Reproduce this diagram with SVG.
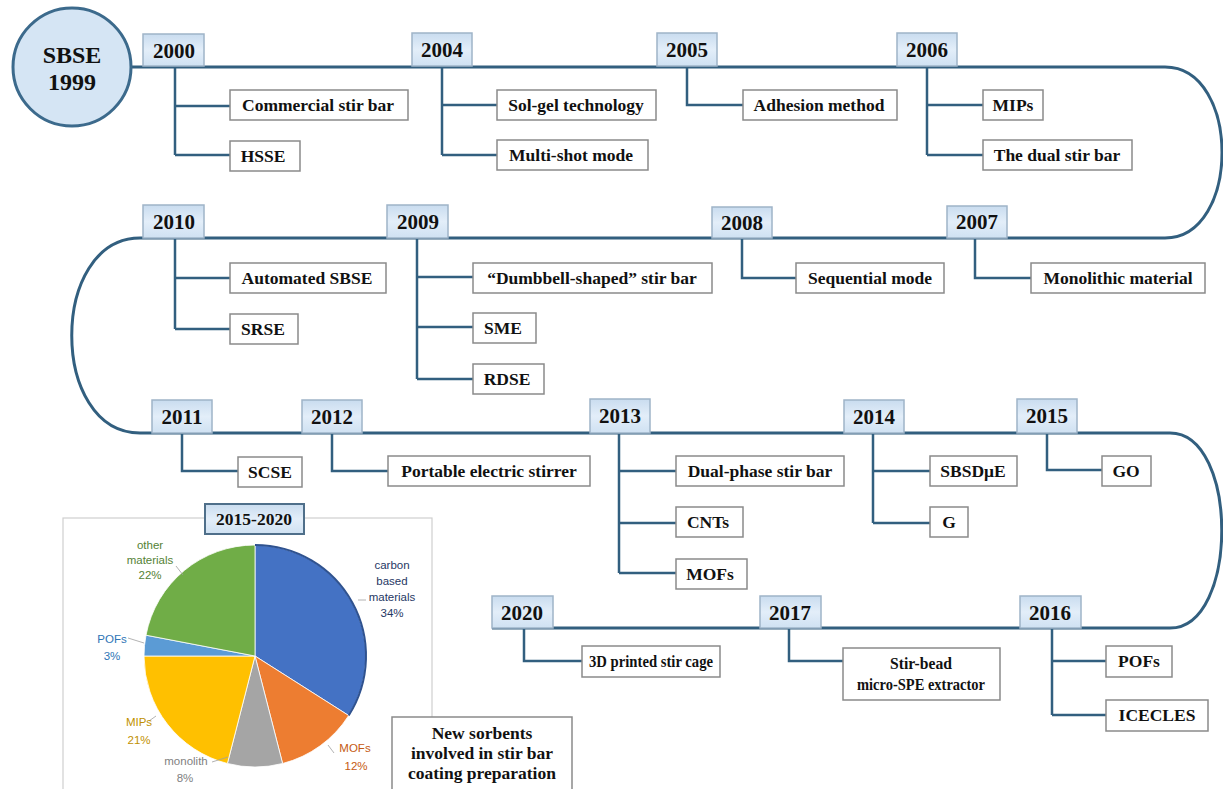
<svg xmlns="http://www.w3.org/2000/svg" width="1223" height="789" viewBox="0 0 1223 789">
<defs>
<linearGradient id="yg" x1="0" y1="0" x2="0" y2="1">
<stop offset="0" stop-color="#c9dcef"/>
<stop offset="0.5" stop-color="#e3eef9"/>
<stop offset="1" stop-color="#cfe1f2"/>
</linearGradient>
<style>
.tl{fill:none;stroke:#325f7f;stroke-width:3}
.br{fill:none;stroke:#325f7f;stroke-width:2.5}
.yb{fill:url(#yg);stroke:#9fb4c8;stroke-width:1.5}
.ib{fill:#fff;stroke:#8a8a8a;stroke-width:1.5}
.yt{font-family:"Liberation Serif",serif;font-weight:bold;font-size:21px;fill:#111;text-anchor:middle}
.it{font-family:"Liberation Serif",serif;font-weight:bold;font-size:17.5px;fill:#111;text-anchor:middle}
.pl{font-family:"Liberation Sans",Arial,sans-serif;font-size:11.5px;text-anchor:middle}
.ld{fill:none;stroke:#a0a0a0;stroke-width:0.8}
.sl{stroke:#fff;stroke-width:0.8}
</style>
</defs>
<rect width="1223" height="789" fill="#fff"/>

<g id="connectors">
<path class="tl" d="M131 67 H1165 C1241 67 1241 238 1165 238 H140 C49 238 49 433 140 433 H1170 C1239 433 1239 628 1170 628 H492"/>
<path class="br" d="M175 67 V155 M175 106 H230 M175 155 H230"/>
<path class="br" d="M442 67 V155 M442 105 H497 M442 155 H497"/>
<path class="br" d="M687 67 V105 H743"/>
<path class="br" d="M927 67 V155 M927 105 H983 M927 155 H983"/>
<path class="br" d="M175 238 V329 M175 278 H230 M175 329 H230"/>
<path class="br" d="M417 238 V379 M417 277 H473 M417 327 H473 M417 379 H473"/>
<path class="br" d="M742 238 V278 H796"/>
<path class="br" d="M975 238 V278 H1031"/>
<path class="br" d="M182 433 V471 H238"/>
<path class="br" d="M332 433 V471 H388"/>
<path class="br" d="M619 433 V573 M619 471 H676 M619 523 H676 M619 573 H676"/>
<path class="br" d="M873 433 V523 M873 471 H930 M873 523 H930"/>
<path class="br" d="M1047 433 V470 H1102"/>
<path class="br" d="M524 628 V661 H582"/>
<path class="br" d="M789 628 V661 H843"/>
<path class="br" d="M1052 628 V715 M1052 661 H1106 M1052 715 H1106"/>
</g>

<g id="start">
<circle cx="72" cy="67" r="59" fill="#d5e5f4" stroke="#3c6a8c" stroke-width="3"/>
<text x="72" y="63" font-family="Liberation Serif,serif" font-weight="bold" font-size="24" fill="#111" text-anchor="middle">SBSE</text>
<text x="72" y="90" font-family="Liberation Serif,serif" font-weight="bold" font-size="24" fill="#111" text-anchor="middle">1999</text>
</g>

<g id="y2000"><rect class="yb" x="143" y="34" width="61" height="32"/><text class="yt" x="174" y="58">2000</text></g>
<g id="y2004"><rect class="yb" x="412" y="33" width="60" height="33"/><text class="yt" x="442" y="57">2004</text></g>
<g id="y2005"><rect class="yb" x="657" y="33" width="60" height="33"/><text class="yt" x="687" y="57">2005</text></g>
<g id="y2006"><rect class="yb" x="897" y="33" width="60" height="33"/><text class="yt" x="927" y="57">2006</text></g>
<g id="y2010"><rect class="yb" x="143" y="205" width="61" height="33"/><text class="yt" x="174" y="229">2010</text></g>
<g id="y2009"><rect class="yb" x="387" y="205" width="61" height="33"/><text class="yt" x="418" y="229">2009</text></g>
<g id="y2008"><rect class="yb" x="712" y="207" width="60" height="31"/><text class="yt" x="742" y="230">2008</text></g>
<g id="y2007"><rect class="yb" x="947" y="206" width="60" height="32"/><text class="yt" x="977" y="229">2007</text></g>
<g id="y2011"><rect class="yb" x="152" y="400" width="60" height="33"/><text class="yt" x="182" y="424">2011</text></g>
<g id="y2012"><rect class="yb" x="302" y="400" width="60" height="33"/><text class="yt" x="332" y="424">2012</text></g>
<g id="y2013"><rect class="yb" x="590" y="399" width="60" height="34"/><text class="yt" x="620" y="423">2013</text></g>
<g id="y2014"><rect class="yb" x="844" y="400" width="60" height="33"/><text class="yt" x="874" y="424">2014</text></g>
<g id="y2015"><rect class="yb" x="1017" y="399" width="60" height="34"/><text class="yt" x="1047" y="423">2015</text></g>
<g id="y2020"><rect class="yb" x="492" y="596" width="61" height="32"/><text class="yt" x="522" y="620">2020</text></g>
<g id="y2017"><rect class="yb" x="760" y="596" width="61" height="32"/><text class="yt" x="790" y="620">2017</text></g>
<g id="y2016"><rect class="yb" x="1020" y="596" width="61" height="32"/><text class="yt" x="1050" y="620">2016</text></g>

<g id="i-commercial"><rect class="ib" x="230" y="90" width="178" height="30"/><text class="it" x="318" y="111">Commercial stir bar</text></g>
<g id="i-hsse"><rect class="ib" x="230" y="141" width="70" height="30"/><text class="it" x="263" y="162">HSSE</text></g>
<g id="i-solgel"><rect class="ib" x="497" y="90" width="159" height="30"/><text class="it" x="576" y="111">Sol-gel technology</text></g>
<g id="i-multishot"><rect class="ib" x="497" y="140" width="151" height="30"/><text class="it" x="571" y="161">Multi-shot mode</text></g>
<g id="i-adhesion"><rect class="ib" x="743" y="90" width="154" height="30"/><text class="it" x="819" y="111">Adhesion method</text></g>
<g id="i-mips"><rect class="ib" x="983" y="90" width="60" height="30"/><text class="it" x="1013" y="111">MIPs</text></g>
<g id="i-dual"><rect class="ib" x="983" y="140" width="149" height="30"/><text class="it" x="1057" y="161">The dual stir bar</text></g>
<g id="i-automated"><rect class="ib" x="230" y="263" width="156" height="30"/><text class="it" x="307" y="284">Automated SBSE</text></g>
<g id="i-srse"><rect class="ib" x="230" y="314" width="68" height="30"/><text class="it" x="263" y="335">SRSE</text></g>
<g id="i-dumbbell"><rect class="ib" x="473" y="263" width="239" height="30"/><text class="it" x="592" y="284">“Dumbbell-shaped” stir bar</text></g>
<g id="i-sme"><rect class="ib" x="473" y="313" width="63" height="30"/><text class="it" x="503" y="334">SME</text></g>
<g id="i-rdse"><rect class="ib" x="473" y="364" width="71" height="30"/><text class="it" x="507" y="385">RDSE</text></g>
<g id="i-sequential"><rect class="ib" x="796" y="263" width="148" height="30"/><text class="it" x="870" y="284">Sequential mode</text></g>
<g id="i-monolithic"><rect class="ib" x="1031" y="263" width="174" height="30"/><text class="it" x="1118" y="284">Monolithic material</text></g>
<g id="i-scse"><rect class="ib" x="238" y="457" width="64" height="30"/><text class="it" x="270" y="478">SCSE</text></g>
<g id="i-portable"><rect class="ib" x="388" y="456" width="202" height="30"/><text class="it" x="489" y="477">Portable electric stirrer</text></g>
<g id="i-dualphase"><rect class="ib" x="676" y="456" width="168" height="30"/><text class="it" x="760" y="477">Dual-phase stir bar</text></g>
<g id="i-cnts"><rect class="ib" x="676" y="507" width="67" height="30"/><text class="it" x="708" y="528">CNTs</text></g>
<g id="i-mofs"><rect class="ib" x="676" y="559" width="71" height="30"/><text class="it" x="710" y="580">MOFs</text></g>
<g id="i-sbsdme"><rect class="ib" x="930" y="456" width="87" height="30"/><text class="it" x="973" y="477">SBSDμE</text></g>
<g id="i-g"><rect class="ib" x="930" y="507" width="38" height="30"/><text class="it" x="949" y="528">G</text></g>
<g id="i-go"><rect class="ib" x="1102" y="456" width="49" height="30"/><text class="it" x="1126" y="477">GO</text></g>
<g id="i-3d"><rect class="ib" x="582" y="646" width="138" height="31"/><text class="it" x="651" y="667" font-size="17" textLength="124" lengthAdjust="spacingAndGlyphs">3D printed stir cage</text></g>
<g id="i-stirbead"><rect class="ib" x="843" y="648" width="157" height="52"/><text class="it" x="921" y="669" font-size="17" textLength="62" lengthAdjust="spacingAndGlyphs">Stir-bead</text><text class="it" x="921" y="690" font-size="17" textLength="128" lengthAdjust="spacingAndGlyphs">micro-SPE extractor</text></g>
<g id="i-pofs"><rect class="ib" x="1106" y="646" width="66" height="31"/><text class="it" x="1139" y="667">POFs</text></g>
<g id="i-icecles"><rect class="ib" x="1106" y="700" width="102" height="31"/><text class="it" x="1157" y="721">ICECLES</text></g>

<g id="pie-panel">
<rect x="63" y="518" width="369" height="290" fill="none" stroke="#cfcfcf" stroke-width="1.2"/>
<g id="pie">
<path class="sl" fill="#4472c4" d="M255 656 L255 545 A111 111 0 0 1 348.7 715.5 Z"/>
<path class="sl" fill="#ed7d31" d="M255 656 L348.7 715.5 A111 111 0 0 1 282.6 763.5 Z"/>
<path class="sl" fill="#a5a5a5" d="M255 656 L282.6 763.5 A111 111 0 0 1 227.4 763.5 Z"/>
<path class="sl" fill="#ffc000" d="M255 656 L227.4 763.5 A111 111 0 0 1 144 656 Z"/>
<path class="sl" fill="#5b9bd5" d="M255 656 L144 656 A111 111 0 0 1 146 635.2 Z"/>
<path class="sl" fill="#70ad47" d="M255 656 L146 635.2 A111 111 0 0 1 255 545 Z"/>
<path d="M255 545 A111 111 0 0 1 348.7 715.5" fill="none" stroke="#2f528f" stroke-width="2"/>
</g>
<path class="ld" d="M176 566 L183 575 M128 638 L144 643 M149 721 L156 716 M212 762 L228 757 M328 745 L334 753 M358 600 L366 600"/>
<text class="pl" fill="#548235" x="150" y="549">other</text>
<text class="pl" fill="#548235" x="150" y="564">materials</text>
<text class="pl" fill="#548235" x="150" y="579">22%</text>
<text class="pl" fill="#2e75b6" x="112" y="643">POFs</text>
<text class="pl" fill="#2e75b6" x="112" y="660">3%</text>
<text class="pl" fill="#bf9000" x="139" y="726">MIPs</text>
<text class="pl" fill="#bf9000" x="139" y="744">21%</text>
<text class="pl" fill="#7f7f7f" x="186" y="765">monolith</text>
<text class="pl" fill="#7f7f7f" x="185" y="782">8%</text>
<text class="pl" fill="#c55a11" x="355" y="752">MOFs</text>
<text class="pl" fill="#c55a11" x="356" y="770">12%</text>
<text class="pl" fill="#1f3864" x="392" y="569">carbon</text>
<text class="pl" fill="#1f3864" x="392" y="585">based</text>
<text class="pl" fill="#1f3864" x="392" y="601">materials</text>
<text class="pl" fill="#1f3864" x="392" y="617">34%</text>
<g id="pie-title"><rect x="205" y="504" width="99" height="30" fill="url(#yg)" stroke="#4f6f8a" stroke-width="2"/><text class="it" x="254" y="525">2015-2020</text></g>
</g>

<g id="caption">
<rect class="ib" x="392" y="717" width="180" height="80"/>
<text class="it" x="482" y="739" font-size="16">New sorbents</text>
<text class="it" x="482" y="759" font-size="16">involved in stir bar</text>
<text class="it" x="482" y="779" font-size="16">coating preparation</text>
</g>
</svg>
